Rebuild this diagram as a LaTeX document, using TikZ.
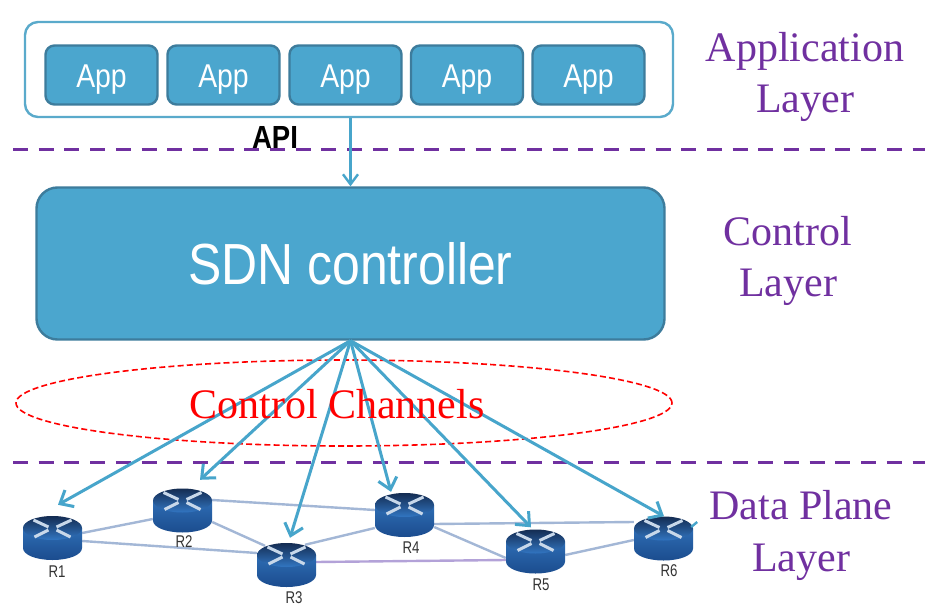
\documentclass[tikz,border=0pt]{standalone}
\usepackage{fontspec}
\setmainfont{Liberation Sans}
\newfontfamily\serifface{Liberation Serif}
\newfontfamily\narrowsans[FakeStretch=0.86]{Liberation Sans}
\newfontfamily\narrowername[FakeStretch=0.78]{Liberation Sans}
\usetikzlibrary{arrows.meta,calc,shapes.geometric}
\definecolor{boxfill}{HTML}{4BA6CE}
\definecolor{boxedge}{HTML}{3D7C9C}
\definecolor{outeredge}{HTML}{5AAACB}
\definecolor{arrowblue}{HTML}{47A5CB}
\definecolor{linkblue}{HTML}{A3B7D6}
\definecolor{linkpurple}{HTML}{B3A2D8}
\definecolor{layerpurple}{HTML}{7030A0}
\definecolor{glyph}{HTML}{C8D8EA}
\definecolor{bodytop}{HTML}{2E6DB4}
\definecolor{bodybottom}{HTML}{1B4C8E}
\definecolor{captop}{HTML}{142C52}
\definecolor{capbottom}{HTML}{3276C2}
\tikzset{
  appbox/.style={draw=boxedge,line width=2.4pt,fill=boxfill,rounded corners=9pt,minimum width=112pt,minimum height=59pt,inner sep=0pt,text=white,text height=30pt,text depth=4pt,font=\narrowsans\fontsize{33}{36}\selectfont},
  outerbox/.style={draw=outeredge,line width=2.4pt,fill=white,rounded corners=13pt,minimum width=648pt,minimum height=95pt},
  ctrlbox/.style={draw=boxedge,line width=2.4pt,fill=boxfill,rounded corners=21pt,minimum width=628pt,minimum height=152pt,inner sep=0pt,text=white,text height=44pt,text depth=2pt,font=\narrowsans\fontsize{58}{62}\selectfont},
  layerlabel/.style={text=layerpurple,font=\serifface\fontsize{42}{46}\selectfont,inner sep=0pt},
  routerbox/.style={minimum width=59pt,minimum height=44pt,inner sep=0pt},
  routername/.style={text=black!80,font=\narrowername\fontsize{17}{19}\selectfont,inner sep=0pt},
  datalink/.style={draw=linkblue,line width=2.4pt},
  purplelink/.style={draw=linkpurple,line width=2.4pt},
  channel/.style={draw=arrowblue,line width=3pt,-{Straight Barb[length=11pt,width=19pt,line width=3pt]}},
  apiarrow/.style={draw=arrowblue,line width=2.4pt,-{Straight Barb[length=10pt,width=15pt,line width=2.4pt]}},
  layerline/.style={draw=layerpurple,line width=3pt,dash pattern=on 15pt off 10.7pt},
  channelring/.style={draw=red,ellipse,line width=1.6pt,dash pattern=on 6pt off 3.2pt,minimum width=656pt,minimum height=86pt,inner sep=0pt},
}
\newcommand{\routerart}[1]{%
  \begin{scope}[shift={(#1)}]
    \shade[top color=bodytop,bottom color=bodybottom]
      (-29.5,-10) -- (-29.5,10) .. controls (-29.5,17) and (-16,22) .. (0,22) .. controls (16,22) and (29.5,17) .. (29.5,10) -- (29.5,-10) -- cycle;
    \shade[top color=captop,bottom color=capbottom]
      (0,-10) ellipse [x radius=29.5,y radius=12];
    \draw[glyph,line width=3pt] (-19,-18) -- (-4,-11) (19,-18) -- (4,-11) (-18,-1) -- (-4,-8) (18,-1) -- (4,-8);
  \end{scope}}
\begin{document}
\begin{tikzpicture}[x=1pt,y=-1pt]
\useasboundingbox (0,0) rectangle (936,612);
\fill[white] (0,0) rectangle (936,612);
% Application layer
\node[outerbox] (outer) at (349,69.5) {};
\node[appbox] (a1) at (101.5,75) {App};
\node[appbox] (a2) at (223.5,75) {App};
\node[appbox] (a3) at (345.5,75) {App};
\node[appbox] (a4) at (467,75) {App};
\node[appbox] (a5) at (588.5,75) {App};
% Layer separators
\coordinate (d1a) at (13,150);
\coordinate (d1b) at (925,150);
\coordinate (d2a) at (13,462);
\coordinate (d2b) at (925,462);
\draw[layerline] (d1a) -- (d1b);
\draw[layerline] (d2a) -- (d2b);
\node[inner sep=0pt,font=\narrowsans\bfseries\fontsize{32}{34}\selectfont] (api) at (275,137) {API};
% Controller
\node[ctrlbox] (ctrl) at (350.5,263.5) {SDN controller};
\draw[apiarrow] (outer.south -| ctrl.north) -- (ctrl.north);
% Control channels
\node[channelring] (ring) at (344,403) {};
% Routers (nodes)
\node[routerbox] (r1) at (52.5,538) {};
\node[routerbox] (r2) at (182.5,510.5) {};
\node[routerbox] (r3) at (286.5,565) {};
\node[routerbox] (r4) at (404.5,515) {};
\node[routerbox] (r5) at (535.5,551.5) {};
\node[routerbox] (r6) at (663.5,538.5) {};
% Links
\draw[datalink] ([shift={(0,-5)}]r1.east) -- ([shift={(0,8.5)}]r2.west);
\draw[datalink] ([shift={(0,3)}]r1.east) -- ([shift={(0,-12)}]r3.west);
\draw[datalink] ([shift={(0,11.5)}]r2.east) -- ([shift={(-21.5,3)}]r3.north);
\draw[datalink] ([shift={(0,-10.5)}]r2.east) -- ([shift={(0,-5)}]r4.west);
\draw[datalink] ([shift={(18.5,2)}]r3.north) -- ([shift={(0,13)}]r4.west);
\draw[purplelink] ([shift={(0,-3)}]r3.east) -- ([shift={(0,8.5)}]r5.west);
\draw[datalink] ([shift={(0,12)}]r4.east) -- ([shift={(0,6.5)}]r5.west);
\draw[datalink] ([shift={(0,9)}]r4.east) -- ([shift={(0,-16.5)}]r6.west);
\draw[datalink] ([shift={(0,3.5)}]r5.east) -- ([shift={(0,1.5)}]r6.west);
% Router art
\routerart{52.5,538}
\routerart{182.5,510.5}
\routerart{286.5,565}
\routerart{404.5,515}
\routerart{535.5,551.5}
\routerart{663.5,538.5}
\node[routername] (n1) at (57,572) {R1};
\node[routername] (n2) at (184,542) {R2};
\node[routername] (n3) at (294,598) {R3};
\node[routername] (n4) at (411,548) {R4};
\node[routername] (n5) at (541,585) {R5};
\node[routername] (n6) at (669,571) {R6};
% Channels
\draw[channel] (ctrl.south) -- ([shift={(5.5,-11)}]r1.north);
\draw[channel] (ctrl.south) -- ([shift={(17.5,-8.5)}]r2.north);
\draw[channel] (ctrl.south) -- ([shift={(3.5,-5)}]r3.north);
\draw[channel] (ctrl.south) -- ([shift={(-13.5,-1)}]r4.north);
\draw[channel] (ctrl.south) -- ([shift={(-4.5,-2)}]r5.north);
\draw[channel] (ctrl.south) -- ([shift={(0.5,0)}]r6.north);
\draw[draw=arrowblue,line width=2.4pt] ([shift={(-2,-11.5)}]r6.east) -- ([shift={(4,-16.5)}]r6.east);
\node[inner sep=0pt,text=red,font=\serifface\fontsize{42}{46}\selectfont] (cc) at (337,404) {Control Channels};
% Layer labels
\node[layerlabel] (l1a) at (805,51) {Application};
\node[layerlabel] (l1b) at (805,103) {Layer};
\node[layerlabel] (l2a) at (788,231) {Control};
\node[layerlabel] (l2b) at (788,287) {Layer};
\node[layerlabel] (l3a) at (801,505) {Data Plane};
\node[layerlabel] (l3b) at (801,562) {Layer};
\end{tikzpicture}
\end{document}
